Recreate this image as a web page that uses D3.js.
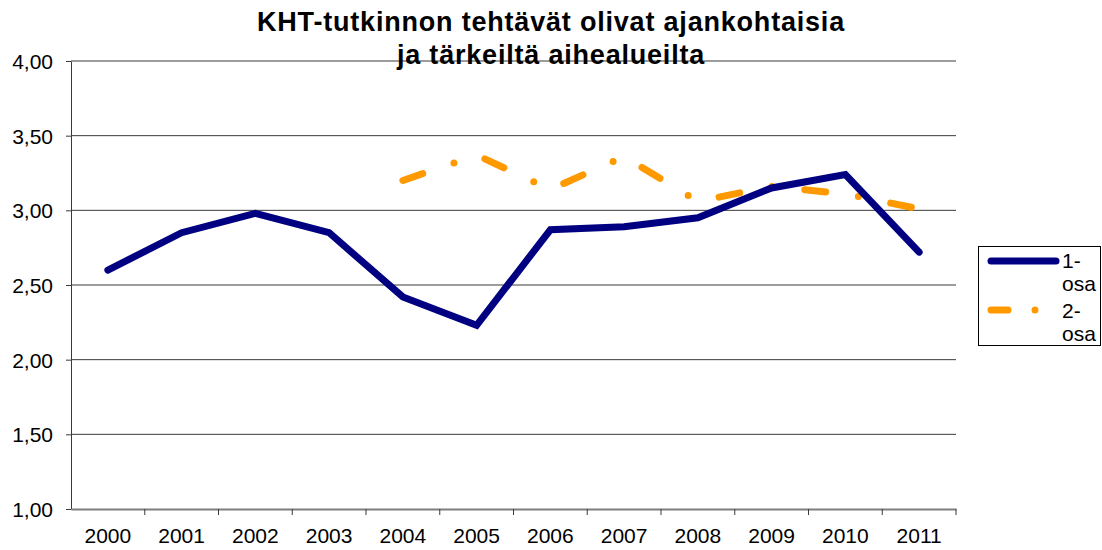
<!DOCTYPE html>
<html>
<head>
<meta charset="utf-8">
<script src="https://cdn.jsdelivr.net/npm/d3@7"></script>
<style>
  body { margin: 0; background: #fff; }
  svg { display: block; font-family: "Liberation Sans", Arial, sans-serif; }
</style>
</head>
<body>
<svg id="chart" width="1102" height="550"></svg>
<script>
// data
const years = ["2000", "2001", "2002", "2003", "2004", "2005", "2006", "2007", "2008", "2009", "2010", "2011"];
const osa1 = [2.60, 2.85, 2.98, 2.85, 2.42, 2.23, 2.87, 2.89, 2.95, 3.15, 3.24, 2.72];
const osa2 = [null, null, null, null, 3.20, 3.37, 3.14, 3.36, 3.06, 3.16, 3.11, 3.01];
const yTicks = [1.0, 1.5, 2.0, 2.5, 3.0, 3.5, 4.0];
const titleLines = ["KHT-tutkinnon tehtävät olivat ajankohtaisia", "ja tärkeiltä aihealueilta"];

const FONT = '"Liberation Sans", Arial, sans-serif';
const svg = d3.select("#chart");
const plotLeft = 71, plotRight = 956, plotTop = 61, plotBottom = 509;

const x = d3.scaleBand().domain(years).range([plotLeft, plotRight]);
const y = d3.scaleLinear().domain([1, 4]).range([plotBottom, plotTop]);
const fmt = v => d3.format(".2f")(v).replace(".", ",");

// gridlines
svg.append("g")
    .selectAll("line")
    .data(yTicks.filter(d => d > 1))
    .enter()
    .append("line")
    .attr("x1", plotLeft).attr("x2", plotRight)
    .attr("y1", d => y(d)).attr("y2", d => y(d))
    .attr("stroke", "#3a3a3a")
    .attr("stroke-width", 1);

// y axis
const yAxis = svg.append("g")
    .attr("transform", `translate(${plotLeft},0)`)
    .call(d3.axisLeft(y).tickValues(yTicks).tickFormat(fmt).tickSize(5).tickSizeOuter(0))
    .attr("font-family", FONT)
    .attr("font-size", 21);
yAxis.select(".domain").attr("stroke", "#3a3a3a");
yAxis.selectAll(".tick line").attr("stroke", "#3a3a3a");
yAxis.selectAll("text")
    .attr("x", -18)
    .attr("dy", "0.35em")
    .attr("fill", "#000");

// x axis: ticks sit between categories
const xAxis = svg.append("g")
    .attr("transform", `translate(0,${plotBottom})`)
    .call(d3.axisBottom(x).tickSize(0).tickSizeOuter(0))
    .attr("font-family", FONT)
    .attr("font-size", 21);
xAxis.select(".domain").attr("stroke", "#7f7f7f").attr("stroke-width", 2);
xAxis.selectAll("text")
    .attr("y", 34)
    .attr("dy", 0)
    .attr("fill", "#000");
svg.append("g")
    .selectAll("line")
    .data(years)
    .enter()
    .append("line")
    .attr("x1", d => x(d) + x.bandwidth())
    .attr("x2", d => x(d) + x.bandwidth())
    .attr("y1", plotBottom).attr("y2", plotBottom + 6)
    .attr("stroke", "#3a3a3a");

// series
const cx = i => x(years[i]) + x.bandwidth() / 2;
const line = d3.line()
    .defined(d => d != null)
    .x((d, i) => cx(i))
    .y(d => y(d));

svg.append("path")
    .datum(osa2)
    .attr("d", line)
    .attr("fill", "none")
    .attr("stroke", "#ff9900")
    .attr("stroke-width", 7)
    .attr("stroke-linecap", "round")
    .attr("stroke-linejoin", "round")
    .attr("stroke-dasharray", "21,33,0,33");

svg.append("path")
    .datum(osa1)
    .attr("d", line)
    .attr("fill", "none")
    .attr("stroke", "#000080")
    .attr("stroke-width", 7)
    .attr("stroke-linecap", "round")
    .attr("stroke-linejoin", "miter");

// title
svg.append("text")
    .attr("text-anchor", "middle")
    .style("font-size", "27px")
    .style("font-weight", "bold")
    .style("letter-spacing", "0.8px")
    .selectAll("tspan")
    .data(titleLines)
    .enter()
    .append("tspan")
    .attr("x", 551)
    .attr("y", (d, i) => 31 + i * 33)
    .text(d => d);

// legend
const legend = svg.append("g");
legend.append("rect")
    .attr("x", 978.5).attr("y", 246.5)
    .attr("width", 122).attr("height", 99)
    .attr("fill", "#fff").attr("stroke", "#000");
legend.append("line")
    .attr("x1", 991).attr("x2", 1056).attr("y1", 261).attr("y2", 261)
    .attr("stroke", "#000080").attr("stroke-width", 7).attr("stroke-linecap", "round");
legend.append("line")
    .attr("x1", 991).attr("x2", 1056).attr("y1", 310).attr("y2", 310)
    .attr("stroke", "#ff9900").attr("stroke-width", 7).attr("stroke-linecap", "round")
    .attr("stroke-dasharray", "17,27,0,100");
const legendText = [["1-", "osa", 268], ["2-", "osa", 318]];
legend.selectAll("text")
    .data(legendText)
    .enter()
    .append("text")
    .style("font-size", "21px")
    .each(function (d) {
        const t = d3.select(this);
        t.append("tspan").attr("x", 1062).attr("y", d[2]).text(d[0]);
        t.append("tspan").attr("x", 1062).attr("y", d[2] + 23).text(d[1]);
    });
</script>
</body>
</html>
